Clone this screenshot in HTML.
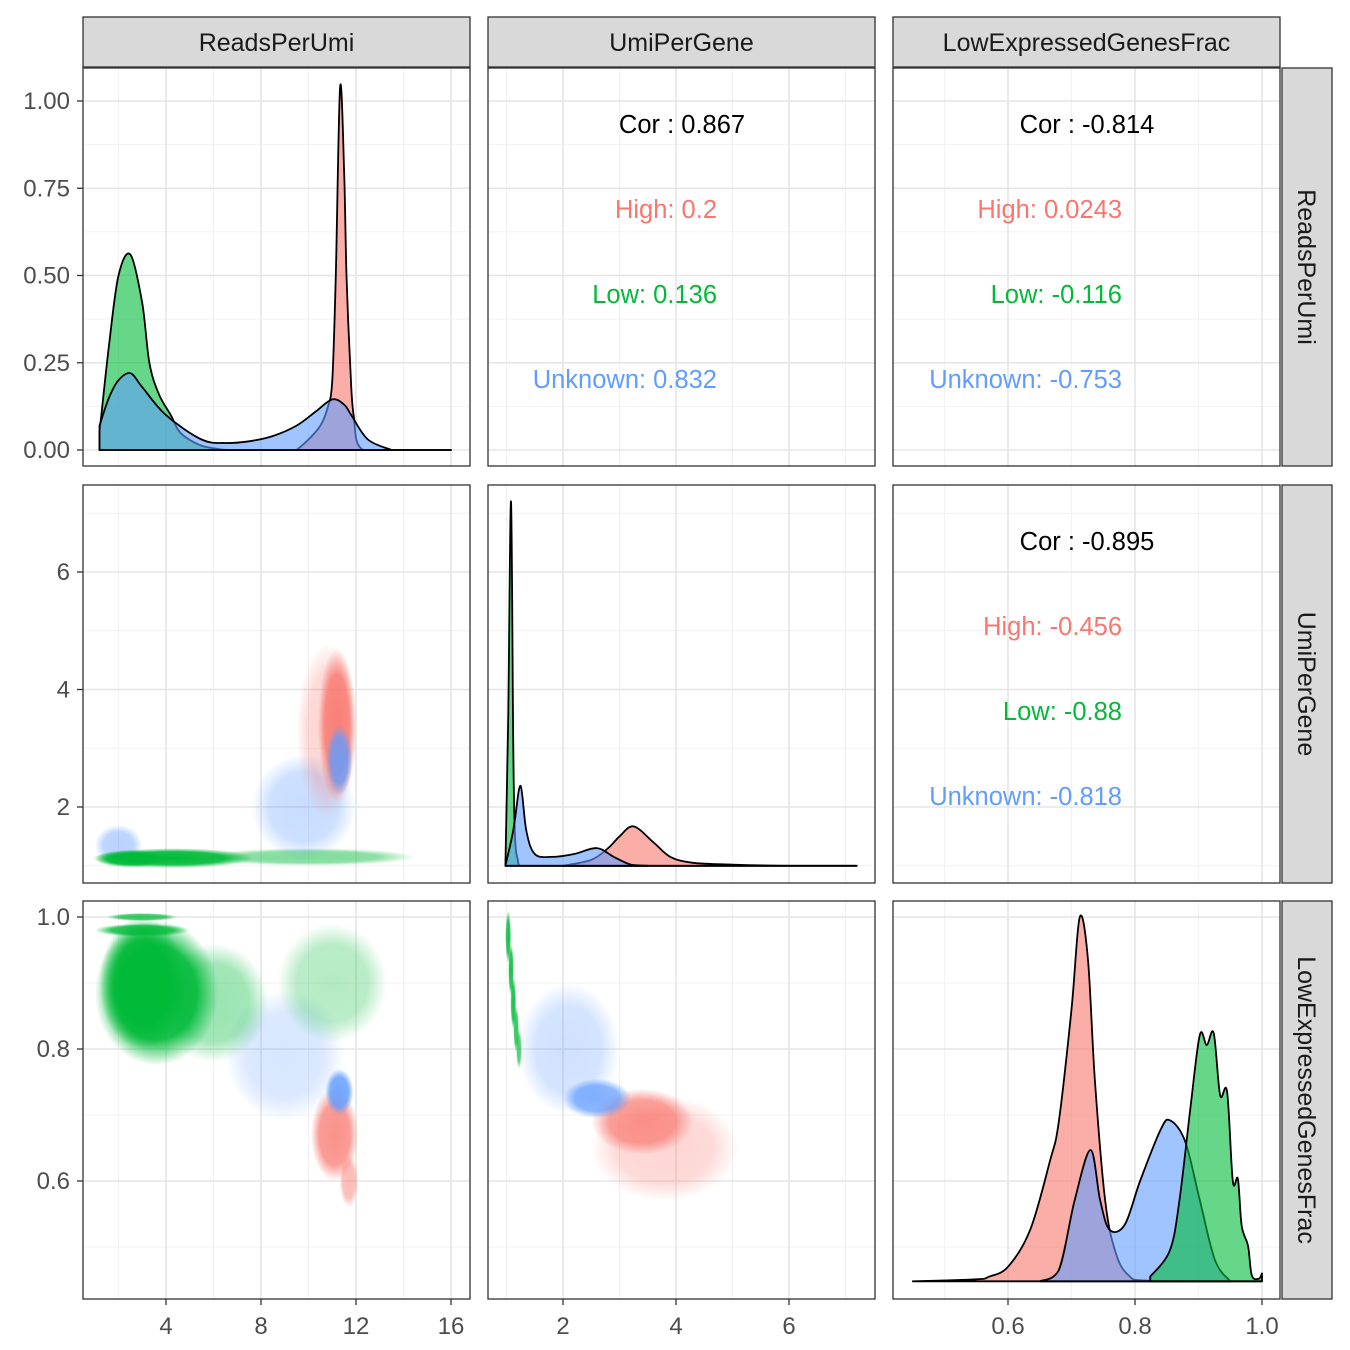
<!DOCTYPE html>
<html><head><meta charset="utf-8"><style>
html,body{margin:0;padding:0;background:#fff}
svg{display:block;font-family:"Liberation Sans",Arial,sans-serif}
</style></head><body>
<svg id="c" width="1350" height="1350" viewBox="0 0 1350 1350"></svg>
<script>
// ---- data ----
const varNames = ["ReadsPerUmi","UmiPerGene","LowExpressedGenesFrac"];
const colors = {High:"#F8766D",Low:"#00BA38",Unknown:"#619CFF"};
const rpuLowX = [1.2,1.6,2.0,2.5,3.0,3.3,3.7,4.2,4.6,5.4,6.2,7,16];
const rpuLowY = [0.05,0.3,0.5,0.56,0.42,0.25,0.16,0.1,0.05,0.015,0.003,0,0];
const rpuUnkX = [1.2,1.6,2.0,2.5,3.0,4.0,5.5,6.5,7.5,8.5,9.5,10.3,11.0,11.5,11.8,12.5,13.5];
const rpuUnkY = [0.07,0.15,0.2,0.22,0.18,0.1,0.03,0.02,0.025,0.04,0.07,0.11,0.145,0.13,0.1,0.03,0];
const rpuHighX = [9.5,10.0,10.5,10.8,11.0,11.15,11.33,11.5,11.6,11.75,11.9,12.3,16];
const rpuHighY = [0,0.03,0.07,0.12,0.2,0.5,1.04,0.8,0.5,0.25,0.1,0,0];
const upgLowX = [0.98,1.03,1.08,1.12,1.15,1.2,1.25,7.2];
const upgLowY = [1.0,3.5,7.2,3.0,1.5,1.1,1.0,1.0];
const upgUnkX = [0.98,1.1,1.15,1.25,1.35,1.5,1.8,2.2,2.6,2.9,3.2,3.5];
const upgUnkY = [1.0,1.5,1.8,2.36,1.6,1.2,1.15,1.2,1.3,1.15,1.02,1.0];
const upgHighX = [2.0,2.5,2.8,3.0,3.25,3.6,3.9,4.3,5.0,6.0,7.2];
const upgHighY = [1.0,1.1,1.3,1.5,1.67,1.4,1.15,1.05,1.02,1.0,1.0];
const lefHighX = [0.45,0.55,0.57,0.6,0.635,0.666,0.68,0.70,0.713,0.726,0.737,0.753,0.77,0.79,0.82,1.0];
const lefHighY = [0.448,0.451,0.455,0.47,0.526,0.63,0.69,0.86,1.0,0.935,0.75,0.57,0.49,0.457,0.449,0.448];
const lefUnkX = [0.65,0.68,0.705,0.73,0.745,0.76,0.784,0.808,0.84,0.855,0.879,0.902,0.926,0.95];
const lefUnkY = [0.448,0.465,0.571,0.647,0.571,0.526,0.534,0.6,0.677,0.692,0.66,0.571,0.48,0.448];
const lefLowX = [0.824,0.855,0.87,0.887,0.902,0.913,0.924,0.934,0.945,0.954,0.962,0.968,0.978,0.984,0.995,1.0];
const lefLowY = [0.455,0.495,0.571,0.708,0.821,0.806,0.824,0.73,0.735,0.6,0.603,0.532,0.502,0.457,0.452,0.46];
const corPanels = [
 {col:1,row:0,cor:"Cor : 0.867",High:"High: 0.2",Low:"Low: 0.136",Unknown:"Unknown: 0.832"},
 {col:2,row:0,cor:"Cor : -0.814",High:"High: 0.0243",Low:"Low: -0.116",Unknown:"Unknown: -0.753"},
 {col:2,row:1,cor:"Cor : -0.895",High:"High: -0.456",Low:"Low: -0.88",Unknown:"Unknown: -0.818"}];
// scatter clusters: [cx, cy, halfX, halfY, group, alpha]
const clustersR2C1 = [
 [10.0,1.15,4.5,0.15,"Low",0.5],[2.0,1.35,1.0,0.35,"Unknown",0.45],[9.8,2.0,2.2,0.9,"Unknown",0.35],
 [10.8,3.3,1.3,1.5,"High",0.3],[11.2,3.4,0.8,1.3,"High",0.9],[11.3,2.8,0.55,0.6,"Unknown",0.85],
 [4.3,1.13,3.4,0.17,"Low",1.0],[2.5,1.12,1.5,0.15,"Low",1.0]];
const clustersR3C1 = [
 [9.0,0.79,2.5,0.1,"Unknown",0.25],[11.0,0.9,2.3,0.09,"Low",0.3],[6.0,0.87,2.3,0.09,"Low",0.4],
 [11.1,0.67,1.0,0.07,"High",0.8],[11.7,0.6,0.4,0.04,"High",0.5],[11.3,0.735,0.6,0.035,"Unknown",0.9],
 [3.6,0.885,2.6,0.11,"Low",1.0],[3.0,0.9,1.8,0.1,"Low",1.0],[3.0,0.98,2.0,0.01,"Low",0.9],[3.0,1.0,1.5,0.006,"Low",0.8]];
const clustersR3C2 = [
 [2.1,0.8,0.9,0.1,"Unknown",0.3],[3.8,0.65,1.3,0.08,"High",0.3],[3.4,0.69,0.9,0.05,"High",0.75],
 [2.6,0.725,0.6,0.03,"Unknown",0.8],
 [1.03,0.97,0.05,0.04,"Low",0.9],[1.08,0.92,0.05,0.04,"Low",0.9],[1.12,0.87,0.05,0.04,"Low",0.9],
 [1.17,0.83,0.05,0.035,"Low",0.8],[1.22,0.8,0.05,0.03,"Low",0.7]];
const xTicks = [[4,8,12,16],[2,4,6],[0.6,0.8,1.0]];
const xMinor = [[2,6,10,14],[1,3,5,7],[0.5,0.7,0.9]];
const yTicks = [[0,0.25,0.5,0.75,1.0],[2,4,6],[0.6,0.8,1.0]];
const yTickLbl = [["0.00","0.25","0.50","0.75","1.00"],["2","4","6"],["0.6","0.8","1.0"]];
const yMinor = [[0.125,0.375,0.625,0.875],[1,3,5,7],[0.5,0.7,0.9]];
const xTickLbl = [["4","8","12","16"],["2","4","6"],["0.6","0.8","1.0"]];

// ---- geometry ----
const NS="http://www.w3.org/2000/svg";
const svg=document.getElementById('c');
const colX=[83,488,893], rowY=[68,485,901], PW=387, PH=398;
const sx=[v=>71+23.75*v, v=>450+56.5*v, v=>1008+(v-0.6)*635];
const sy=[v=>450-349*v, v=>924.5-58.75*v, v=>1181-(v-0.6)*660];
function el(t,a,p){const e=document.createElementNS(NS,t);for(const k in a)e.setAttribute(k,a[k]);(p||svg).appendChild(e);return e;}
const defs=el('defs',{});
for(const g in colors){
  const rg=el('radialGradient',{id:'g'+g},defs);
  el('stop',{offset:'0','stop-color':colors[g],'stop-opacity':1},rg);
  el('stop',{offset:'0.65','stop-color':colors[g],'stop-opacity':0.9},rg);
  el('stop',{offset:'1','stop-color':colors[g],'stop-opacity':0},rg);
}
for(let r=0;r<3;r++)for(let c=0;c<3;c++){
  const cp=el('clipPath',{id:'cp'+r+c},defs);
  el('rect',{x:colX[c],y:rowY[r],width:PW,height:PH},cp);
}
for(let r=0;r<3;r++)for(let c=0;c<3;c++){
  const g=el('g',{'clip-path':'url(#cp'+r+c+')'});
  
  
  el('rect',{x:colX[c],y:rowY[r],width:PW,height:PH,fill:'#fff'},g);
  xMinor[c].forEach(v=>el('line',{x1:sx[c](v),x2:sx[c](v),y1:rowY[r],y2:rowY[r]+PH,stroke:'#F2F2F2','stroke-width':1},g));
  yMinor[r].forEach(v=>el('line',{y1:sy[r](v),y2:sy[r](v),x1:colX[c],x2:colX[c]+PW,stroke:'#F2F2F2','stroke-width':1},g));
  xTicks[c].forEach(v=>el('line',{x1:sx[c](v),x2:sx[c](v),y1:rowY[r],y2:rowY[r]+PH,stroke:'#E5E5E5','stroke-width':1.6},g));
  yTicks[r].forEach(v=>el('line',{y1:sy[r](v),y2:sy[r](v),x1:colX[c],x2:colX[c]+PW,stroke:'#E5E5E5','stroke-width':1.6},g));
}
function cluster(r,c,arr,name){
  const g=el('g',{'clip-path':'url(#cp'+r+c+')'});
  
  
  arr.forEach(d=>{
    const cx=sx[c](d[0]),cy=sy[r](d[1]);
    const rx=Math.abs(sx[c](d[0]+d[2])-cx), ry=Math.abs(sy[r](d[1]+d[3])-cy);
    const e=el('ellipse',{cx:cx,cy:cy,rx:rx,ry:ry,fill:'url(#g'+d[4]+')',opacity:d[5]},g);
    
    
  });
}
cluster(1,0,clustersR2C1,'scatter-umipergene-vs-readsperumi');
cluster(2,0,clustersR3C1,'scatter-lowexpr-vs-readsperumi');
cluster(2,1,clustersR3C2,'scatter-lowexpr-vs-umipergene');
function density(r,c,xs,ys,base,grp){
  const by=sy[r](base);
  const P=xs.map((x,i)=>[sx[c](x),sy[r](ys[i])]);
  let d='M'+P[0][0].toFixed(1)+','+by.toFixed(1)+' L'+P[0][0].toFixed(1)+','+P[0][1].toFixed(1);
  for(let i=0;i<P.length-1;i++){
    const p0=P[Math.max(0,i-1)],p1=P[i],p2=P[i+1],p3=P[Math.min(P.length-1,i+2)];
    const c1=[p1[0]+(p2[0]-p0[0])/6,p1[1]+(p2[1]-p0[1])/6];
    const c2=[p2[0]-(p3[0]-p1[0])/6,p2[1]-(p3[1]-p1[1])/6];
    c1[0]=Math.min(Math.max(c1[0],p1[0]),p2[0]);c2[0]=Math.min(Math.max(c2[0],p1[0]),p2[0]);
    c1[1]=Math.min(c1[1],by);c2[1]=Math.min(c2[1],by);
    d+=' C'+c1[0].toFixed(1)+','+c1[1].toFixed(1)+' '+c2[0].toFixed(1)+','+c2[1].toFixed(1)+' '+p2[0].toFixed(1)+','+p2[1].toFixed(1);
  }
  d+=' L'+P[P.length-1][0].toFixed(1)+','+by.toFixed(1)+'Z';
  const p=el('path',{d:d,fill:colors[grp],'fill-opacity':0.6,stroke:'#000','stroke-width':1.8,'stroke-linejoin':'round','clip-path':'url(#cp'+r+c+')'});
  
  
}
density(0,0,rpuLowX,rpuLowY,0,'Low');
density(0,0,rpuHighX,rpuHighY,0,'High');
density(0,0,rpuUnkX,rpuUnkY,0,'Unknown');
density(1,1,upgLowX,upgLowY,1.0,'Low');
density(1,1,upgHighX,upgHighY,1.0,'High');
density(1,1,upgUnkX,upgUnkY,1.0,'Unknown');
density(2,2,lefHighX,lefHighY,0.448,'High');
density(2,2,lefUnkX,lefUnkY,0.448,'Unknown');
density(2,2,lefLowX,lefLowY,0.448,'Low');
corPanels.forEach(p=>{
  const cx=colX[p.col]+194, y0=rowY[p.row]+65, rx=colX[p.col]+229;
  const t=el('text',{x:cx,y:y0,'text-anchor':'middle','font-size':25.5,fill:'#000'});t.textContent=p.cor;
  
  ['High','Low','Unknown'].forEach((g,i)=>{
    const tt=el('text',{x:rx,y:y0+85*(i+1),'text-anchor':'end','font-size':25.5,fill:colors[g]});tt.textContent=p[g];
    
  });
});
for(let r=0;r<3;r++)for(let c=0;c<3;c++)
  el('rect',{x:colX[c],y:rowY[r],width:PW,height:PH,fill:'none',stroke:'#333','stroke-width':1.3});
varNames.forEach((n,i)=>{
  const s=el('rect',{x:colX[i],y:17,width:PW,height:50,fill:'#D9D9D9',stroke:'#333','stroke-width':1.3});
  
  const t=el('text',{x:colX[i]+PW/2,y:51,'text-anchor':'middle','font-size':25,fill:'#1A1A1A'});t.textContent=n;
  
  const s2=el('rect',{x:1282,y:rowY[i],width:50,height:PH,fill:'#D9D9D9',stroke:'#333','stroke-width':1.3});
  
  const t2=el('text',{x:0,y:0,'text-anchor':'middle','font-size':25,fill:'#1A1A1A',transform:'translate(1298,'+(rowY[i]+PH/2)+') rotate(90)'});t2.textContent=n;
  
});
for(let r=0;r<3;r++)yTicks[r].forEach((v,i)=>{
  el('line',{x1:77,x2:83,y1:sy[r](v),y2:sy[r](v),stroke:'#333','stroke-width':1.3});
  const t=el('text',{x:70,y:sy[r](v)+8,'text-anchor':'end','font-size':24,fill:'#4D4D4D'});t.textContent=yTickLbl[r][i];
  
});
for(let c=0;c<3;c++)xTicks[c].forEach((v,i)=>{
  el('line',{x1:sx[c](v),x2:sx[c](v),y1:1299,y2:1305,stroke:'#333','stroke-width':1.3});
  const t=el('text',{x:sx[c](v),y:1334,'text-anchor':'middle','font-size':24,fill:'#4D4D4D'});t.textContent=xTickLbl[c][i];
  
});
</script>
</body></html>
